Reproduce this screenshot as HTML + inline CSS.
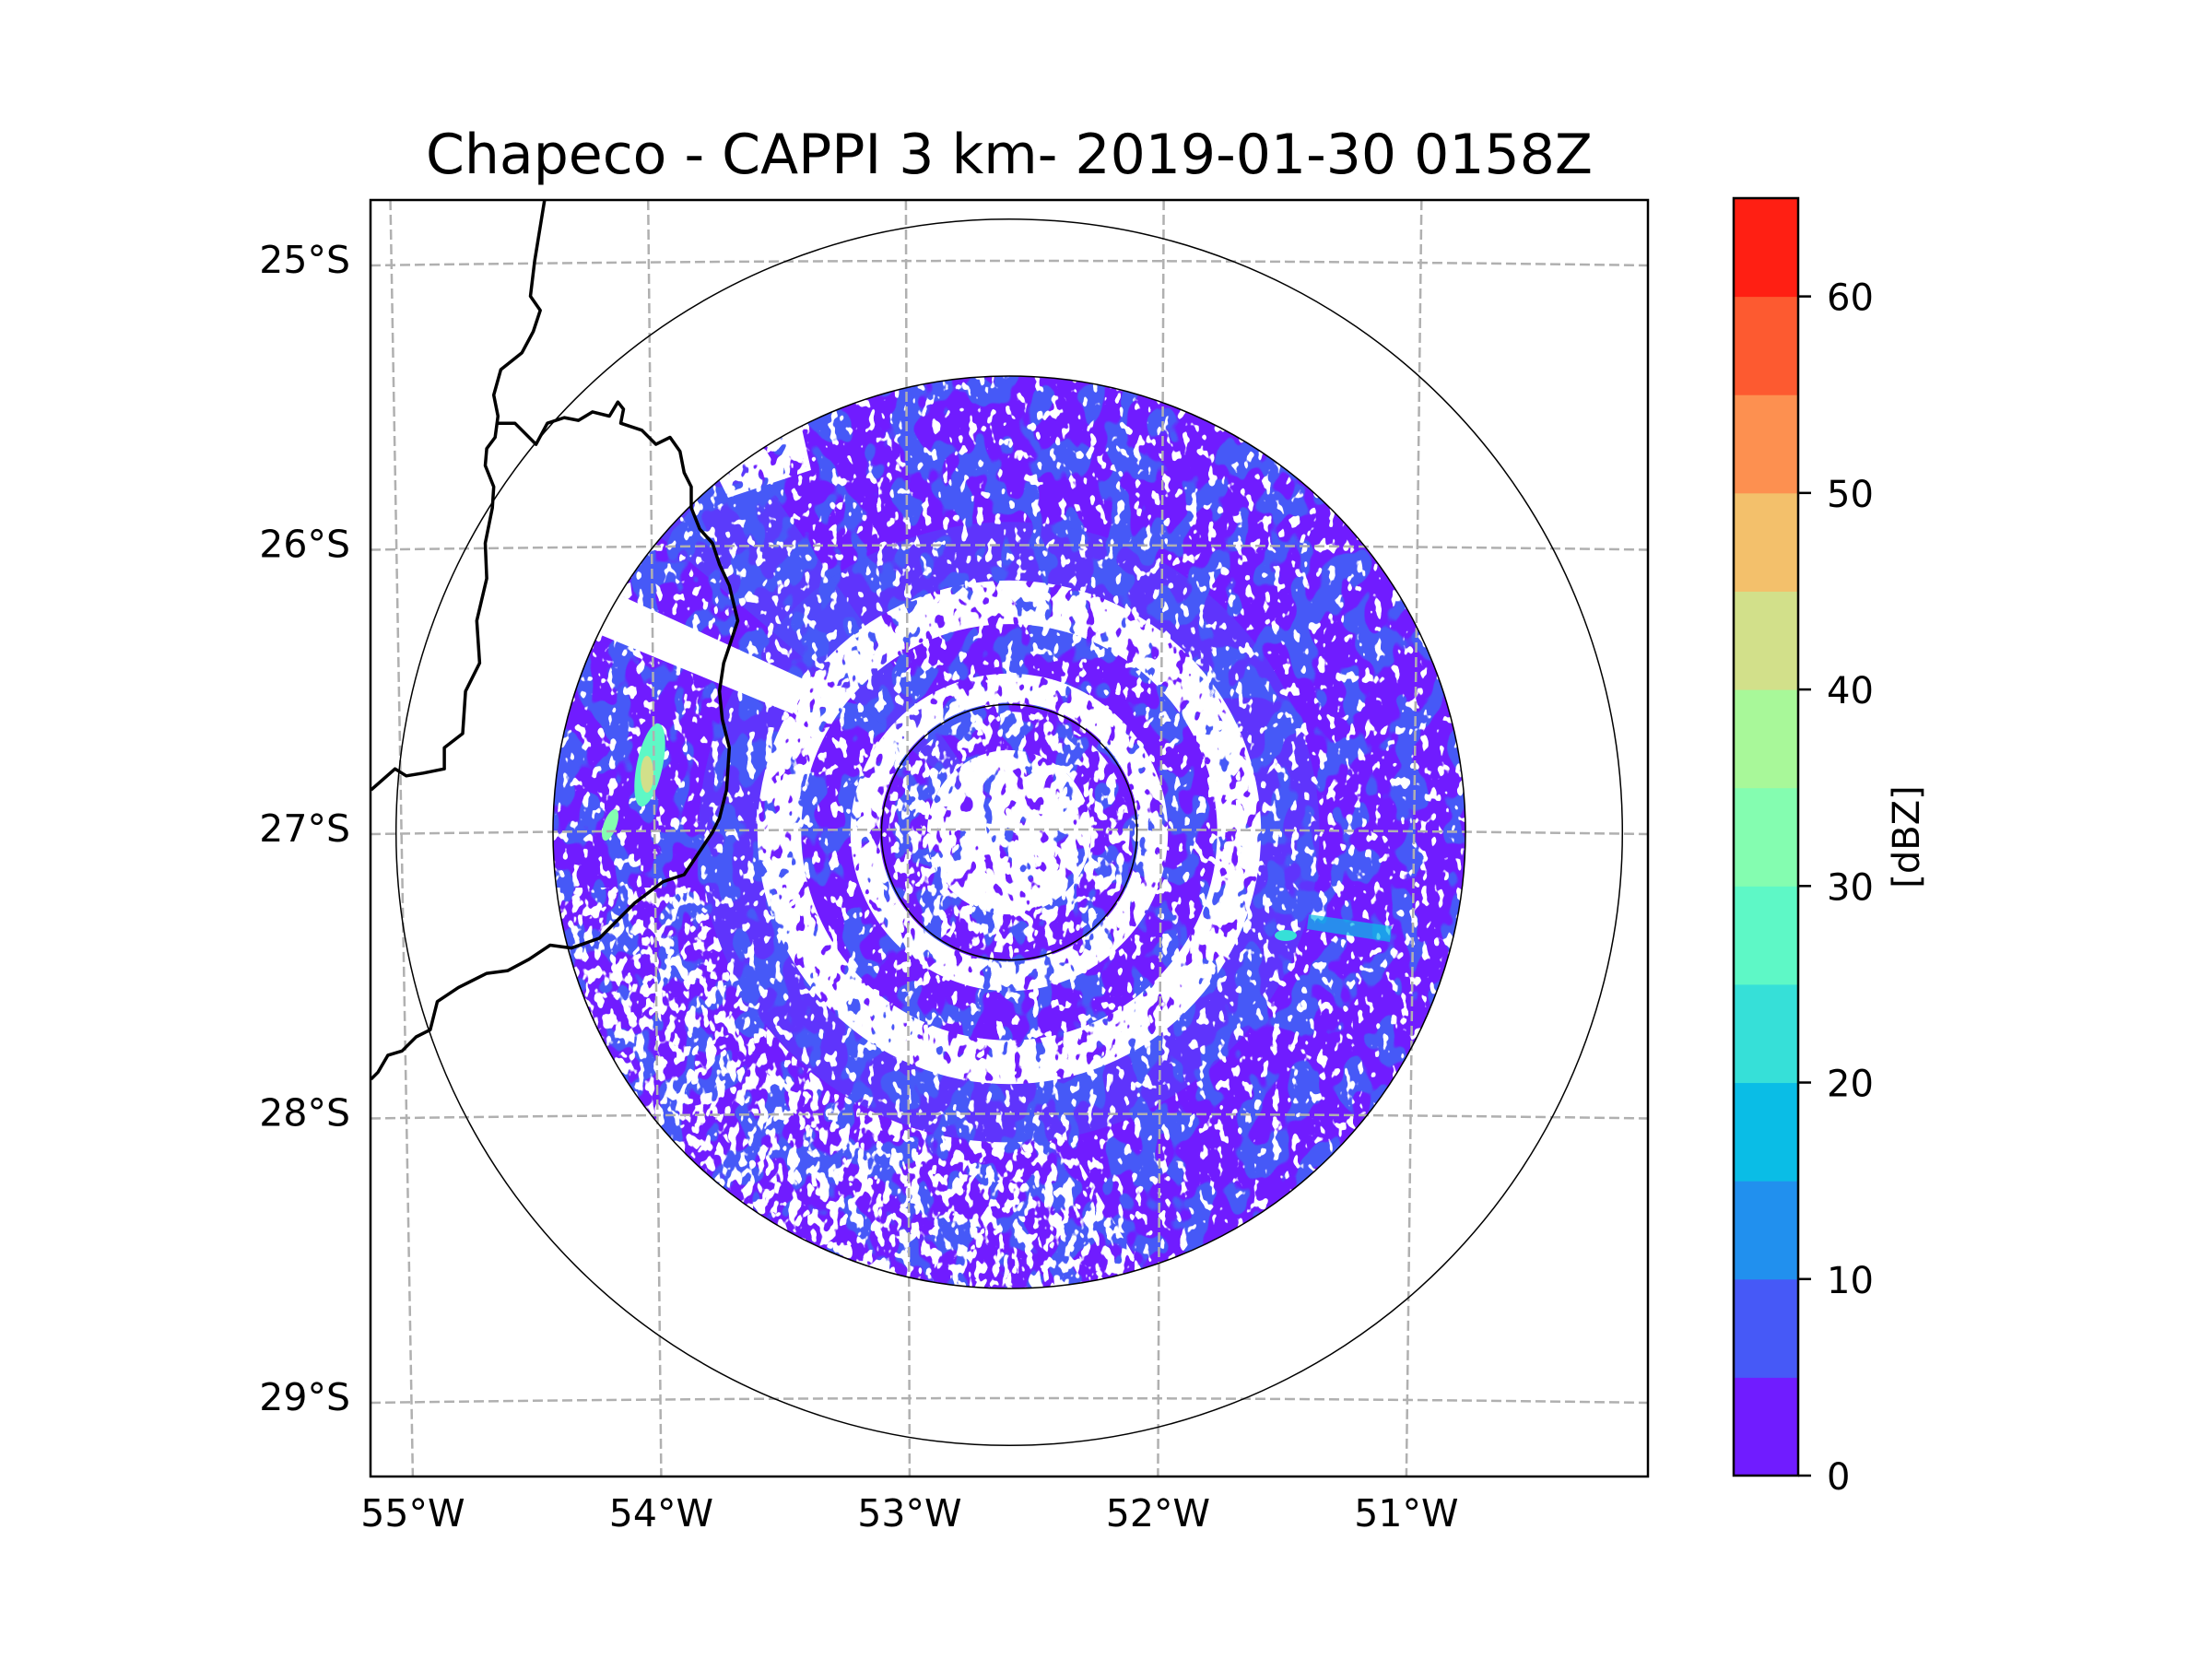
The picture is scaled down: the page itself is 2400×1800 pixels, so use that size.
<!DOCTYPE html>
<html><head><meta charset="utf-8"><title>Chapeco CAPPI</title>
<style>
html,body{margin:0;padding:0;background:#fff;}
svg{display:block;font-family:"DejaVu Sans","Liberation Sans",sans-serif;}
filter{color-interpolation-filters:sRGB;}
</style></head>
<body>
<svg id="fig" width="2400" height="1800" viewBox="0 0 2400 1800" xmlns="http://www.w3.org/2000/svg">
<defs>
<clipPath id="axclip"><rect x="402" y="217" width="1386" height="1385"/></clipPath>
<clipPath id="discclip"><circle cx="1095" cy="903" r="495"/></clipPath>
<filter id="speckVH" color-interpolation-filters="sRGB" filterUnits="userSpaceOnUse" x="580" y="390" width="1040" height="1030">
 <feTurbulence type="fractalNoise" baseFrequency="0.09 0.06" numOctaves="2" seed="4" result="n"/>
 <feColorMatrix in="n" type="matrix" values="0 0 0 0 1  0 0 0 0 1  0 0 0 0 1  1 0 0 0 0" result="w"/>
 <feComponentTransfer in="w" result="t"><feFuncA type="linear" slope="25" intercept="-9.3"/></feComponentTransfer>
 <feComposite in="t" in2="SourceGraphic" operator="in"/>
</filter>
<filter id="speckMid" color-interpolation-filters="sRGB" filterUnits="userSpaceOnUse" x="580" y="390" width="1040" height="1030">
 <feTurbulence type="fractalNoise" baseFrequency="0.09 0.06" numOctaves="2" seed="9" result="n"/>
 <feColorMatrix in="n" type="matrix" values="0 0 0 0 1  0 0 0 0 1  0 0 0 0 1  1 0 0 0 0" result="w"/>
 <feComponentTransfer in="w" result="t"><feFuncA type="linear" slope="25" intercept="-13.5"/></feComponentTransfer>
 <feComposite in="t" in2="SourceGraphic" operator="in"/>
</filter>
<filter id="speckLo" color-interpolation-filters="sRGB" filterUnits="userSpaceOnUse" x="580" y="390" width="1040" height="1030">
 <feTurbulence type="fractalNoise" baseFrequency="0.1 0.07" numOctaves="2" seed="17" result="n"/>
 <feColorMatrix in="n" type="matrix" values="0 0 0 0 1  0 0 0 0 1  0 0 0 0 1  1 0 0 0 0" result="w"/>
 <feComponentTransfer in="w" result="t"><feFuncA type="linear" slope="25" intercept="-15.5"/></feComponentTransfer>
 <feComposite in="t" in2="SourceGraphic" operator="in"/>
</filter>
<filter id="blueN" color-interpolation-filters="sRGB" filterUnits="userSpaceOnUse" x="580" y="390" width="1040" height="1030">
 <feTurbulence type="fractalNoise" baseFrequency="0.035 0.025" numOctaves="2" seed="2" result="n"/>
 <feColorMatrix in="n" type="matrix" values="0 0 0 0 0.275  0 0 0 0 0.35  0 0 0 0 0.97  1 0 0 0 0" result="w"/>
 <feComponentTransfer in="w" result="t"><feFuncA type="linear" slope="25" intercept="-13"/></feComponentTransfer>
 <feComposite in="t" in2="SourceGraphic" operator="in"/>
</filter>
</defs>
<rect x="0" y="0" width="2400" height="1800" fill="#fff"/>
<g id="plot" clip-path="url(#axclip)"></g>
<rect x="402" y="217" width="1386" height="1385" fill="none" stroke="#000" stroke-width="2.5"/>
<text x="1095" y="188" font-size="60" text-anchor="middle" fill="#000">Chapeco - CAPPI 3 km- 2019-01-30 0158Z</text>
<g id="ylabels"></g>
<g id="xlabels"></g>
<g id="cbar"></g>
</svg>
<script>
// ---- data ----
const levels = [0,5,10,15,20,25,30,35,40,45,50,55,60,65];
const levelColors = ["#701cff","#4659f7","#2190ee","#0abde6","#36e0d8","#5ef8c6","#84fdb0","#a8f899","#d2e08a","#f3c06b","#fd9050","#fd5a30","#ff1f13"];
const cbTicks = [0,10,20,30,40,50,60];
const latTicks = [-25,-26,-27,-28,-29];
const lonTicks = [-55,-54,-53,-52,-51];
const rangeRingsKm = [70,250,336];
// echo bands: inner km, outer km, kind
const bandInner = [0, 45, 71, 87, 114];
const bandOuter = [45, 66, 87, 114, 138];
const bandKind  = ["white","mixed","white","purple","white"];
// ---- scales ----
const NS="http://www.w3.org/2000/svg";
const cx=1095, cy=903, pxPerKm=495/250;
const axTop=217, axBot=1602, axL=402, axR=1788;
function latY(lat){ return 900 + (-27 - lat)*308.5; }
function lonX(lon,y){ const k=279.7+(y-axTop)/(axBot-axTop)*(269.5-279.7); return 1092+(lon+52.61)*k; }
function kmR(km){ return km*pxPerKm; }
function mk(tag,attrs,parent){ const e=document.createElementNS(NS,tag); for(const a in attrs) e.setAttribute(a,attrs[a]); parent.appendChild(e); return e; }
const plot=document.getElementById('plot');

// radar disc
const radar=mk('g',{'clip-path':'url(#discclip)'},plot);


const R=kmR(250);
mk('circle',{cx:cx,cy:cy,r:R,fill:levelColors[0]},radar);
// blue patches
mk('circle',{cx:cx,cy:cy,r:R,fill:"#fff",filter:"url(#blueN)"},radar);
mk('path',{d:`M${cx} ${cy} m-${kmR(170)} 0 a${kmR(170)} ${kmR(170)} 0 1 0 ${2*kmR(170)} 0 a${kmR(170)} ${kmR(170)} 0 1 0 -${2*kmR(170)} 0 M${cx} ${cy} m-${kmR(138)} 0 a${kmR(138)} ${kmR(138)} 0 1 1 ${2*kmR(138)} 0 a${kmR(138)} ${kmR(138)} 0 1 1 -${2*kmR(138)} 0`,fill:levelColors[1],'fill-opacity':0.4,'fill-rule':'evenodd'},radar);
mk('polygon',{points:`${cx},${cy} 690,560 800,480`,fill:levelColors[1],'fill-opacity':0.5},radar);
// general speckle across disc
mk('circle',{cx:cx,cy:cy,r:R,fill:"#fff",filter:"url(#speckLo)"},radar);
// outer lower-left spotty crescent
mk('path',{d:`M${cx-R} ${cy+60} A${R} ${R} 0 0 0 ${cx+150} ${cy+R-10} L${cx+60} ${cy+330} A330 330 0 0 1 ${cx-330} ${cy+60} Z`,fill:"#fff",filter:"url(#speckMid)"},radar);
// white beams (upper-left)
mk('polygon',{points:`${cx-kmR(138)*0.8},${cy-kmR(138)*0.6} 660,640 630,680 ${cx-kmR(138)*0.86},${cy-kmR(138)*0.47}`,fill:"#fff"},radar);
mk('polygon',{points:`790,540 740,440 860,420 880,510`,fill:"#fff",filter:"url(#speckVH)"},radar);
mk('polygon',{points:`625,600 640,690 690,680 680,600`,fill:"#fff",filter:"url(#speckMid)"},radar);
// echo bands
for(let i=0;i<bandInner.length;i++){
  const ri=kmR(bandInner[i]), ro=kmR(bandOuter[i]);
  const d=`M${cx-ro} ${cy} a${ro} ${ro} 0 1 0 ${2*ro} 0 a${ro} ${ro} 0 1 0 ${-2*ro} 0 `+(ri>0?`M${cx-ri} ${cy} a${ri} ${ri} 0 1 1 ${2*ri} 0 a${ri} ${ri} 0 1 1 ${-2*ri} 0`:'');
  const f = bandKind[i]==="white"?"url(#speckVH)":(bandKind[i]==="mixed"?"url(#speckMid)":"url(#speckLo)");
  const el=mk('path',{d:d,fill:"#fff",'fill-rule':'evenodd',filter:f},radar);
  
  
}
// convective cells
mk('ellipse',{cx:705,cy:830,rx:14,ry:46,fill:levelColors[5],transform:"rotate(12 705 830)"},radar);
mk('ellipse',{cx:702,cy:840,rx:7,ry:20,fill:levelColors[8]},radar);
mk('ellipse',{cx:662,cy:895,rx:7,ry:18,fill:levelColors[6],transform:"rotate(20 662 895)"},radar);
mk('polygon',{points:"1420,992 1510,1005 1508,1022 1418,1008",fill:levelColors[3],'fill-opacity':0.7},radar);
mk('ellipse',{cx:1395,cy:1015,rx:12,ry:6,fill:levelColors[4]},radar);

// gridlines
const grid=mk('g',{stroke:"#b0b0b0",'stroke-width':2.5,'stroke-dasharray':"11,5",fill:"none"},plot);


latTicks.forEach(lat=>{ const y=latY(lat);
  const l=mk('path',{d:`M${axL} ${y+5} Q${(axL+axR)/2} ${y-5} ${axR} ${y+5}`},grid);
    });
lonTicks.concat([-50]).forEach(lon=>{
  const l=mk('line',{x1:lonX(lon,axTop),y1:axTop,x2:lonX(lon,axBot),y2:axBot},grid);
    });

// range rings
rangeRingsKm.forEach(km=>{
  const c=mk('circle',{cx:cx,cy:cy,r:kmR(km),fill:"none",stroke:"#000",'stroke-width':1.5},plot);
    });

// borders (display coords scaled to figure)
const s=2400/1568;
const b1=[[386,142],[379,185],[376,210],[383,220],[378,235],[370,250],[355,262],[350,280],[353,295],[351,310],[345,318],[344,330],[350,345],[349,360],[344,385],[345,410],[338,440],[340,470],[330,490],[328,520],[315,530],[315,545],[300,548],[288,550],[280,545],[263,560]];
const b2=[[352,300],[365,300],[380,315],[388,300],[400,296],[410,298],[420,292],[432,295],[438,285],[442,290],[440,300],[455,305],[465,315],[475,310],[482,320],[485,335],[490,345],[490,360],[496,375],[505,385],[510,400],[517,415],[523,440],[518,455],[513,470],[510,490],[512,510],[517,530],[515,560],[510,580],[505,590],[495,605],[485,620],[470,625],[450,640],[440,650],[425,665],[405,672],[390,670],[375,680],[360,688],[345,690],[325,700],[310,710],[305,730],[295,735],[285,745],[275,748],[268,760],[263,765]];
[b1,b2].forEach(pts=>{
  const p=mk('polyline',{points:pts.map(q=>(q[0]*s).toFixed(1)+','+(q[1]*s).toFixed(1)).join(' '),fill:"none",stroke:"#000",'stroke-width':3.5,'stroke-linejoin':'round'},plot);
    });

// axis labels
const yl=document.getElementById('ylabels');
latTicks.forEach(lat=>{ const t=mk('text',{x:380,y:latY(lat)+13,'font-size':41,'text-anchor':'end'},yl);
  t.textContent=Math.abs(lat)+"°S";
    });
const xl=document.getElementById('xlabels');
lonTicks.forEach(lon=>{ const t=mk('text',{x:lonX(lon,axBot),y:1656,'font-size':41,'text-anchor':'middle'},xl);
  t.textContent=Math.abs(lon)+"°W";
    });

// colorbar
const cb=document.getElementById('cbar');
const cbTop=215, cbBot=1601, cbX=1881, cbW=70;
function cbY(v){ return cbBot-(v-levels[0])/(levels[levels.length-1]-levels[0])*(cbBot-cbTop); }
for(let i=0;i<levelColors.length;i++){
  const r=mk('rect',{x:cbX,y:cbY(levels[i+1]),width:cbW,height:cbY(levels[i])-cbY(levels[i+1])+0.5,fill:levelColors[i]},cb);
    }
mk('rect',{x:cbX,y:cbTop,width:cbW,height:cbBot-cbTop,fill:"none",stroke:"#000",'stroke-width':2.5},cb);
cbTicks.forEach(v=>{ const y=cbY(v);
  mk('line',{x1:cbX+cbW,y1:y,x2:cbX+cbW+14,y2:y,stroke:"#000",'stroke-width':2.5},cb);
  const t=mk('text',{x:1982,y:y+15,'font-size':40},cb); t.textContent=v;
    });
const cl=mk('text',{x:2082,y:908,'font-size':40,'text-anchor':'middle',transform:'rotate(-90 2082 908)'},cb);
cl.textContent="[dBZ]";


</script>
</body></html>
